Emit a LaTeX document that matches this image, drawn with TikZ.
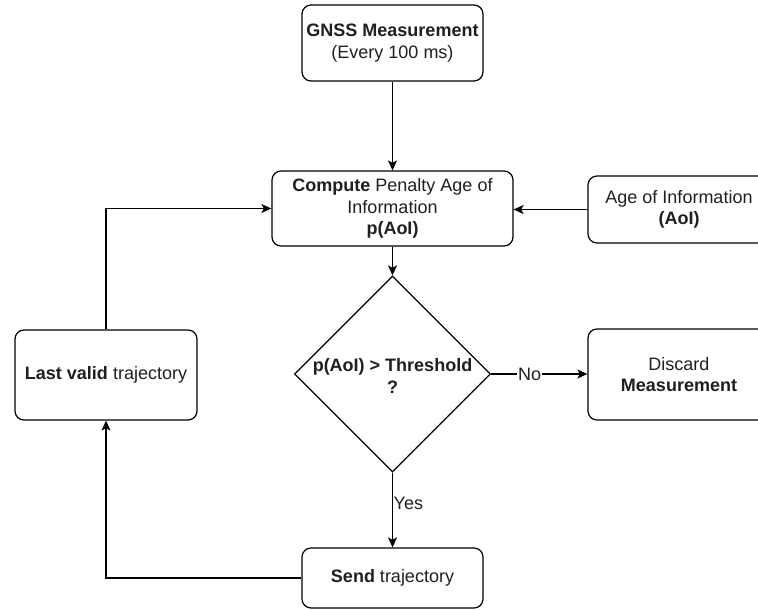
\documentclass[tikz,border=0pt]{standalone}
\usepackage{fontspec}
\setmainfont{Liberation Sans}
\usetikzlibrary{shapes.geometric,arrows.meta}
\begin{document}
\begin{tikzpicture}[x=1pt,y=-1pt,
  txt/.style={font=\fontsize{18}{21.5}\selectfont, text=black!88},
  box/.style={draw, rounded corners=9pt, line width=1.2pt, align=center, inner sep=0pt, txt},
  flow/.style={draw, line width=1.2pt, -{Stealth[length=10pt,width=9pt,inset=2.5pt]}},
  lbl/.style={txt, fill=white, inner sep=1pt}]
\useasboundingbox (0,0) rectangle (758,610);
\clip (0,0) rectangle (758,610);

% process boxes
\node[box, minimum width=181pt, minimum height=76pt] (gnss) at (392.5,43)
  {\textbf{GNSS Measurement}\\(Every 100 ms)};
\node[box, minimum width=241pt, minimum height=75pt] (compute) at (392.5,208.5)
  {\textbf{Compute} Penalty Age of\\Information\\\textbf{p(AoI)}};
\node[box, minimum width=182pt, minimum height=67pt] (aoi) at (679,209.5)
  {Age of Information\\\textbf{(AoI)}};
\node[box, minimum width=182pt, minimum height=91pt] (discard) at (679,374.5)
  {Discard\\\textbf{Measurement}};
\node[box, minimum width=182pt, minimum height=90pt] (last) at (106,375)
  {\textbf{Last valid} trajectory};
\node[box, minimum width=181pt, minimum height=60pt] (send) at (392.5,578)
  {\textbf{Send} trajectory};

% decision
\node[diamond, draw, line width=1.2pt, minimum width=196pt, minimum height=196pt, inner sep=0pt] (dec) at (392.5,374) {};
\node[txt, align=center] (dectext) at (392.5,376) {\textbf{p(AoI) > Threshold}\\\textbf{?}};

% connectors
\draw[flow] (gnss) -- (compute);
\draw[flow] (aoi.west) -- (aoi.west -| compute.east);
\draw[flow] (compute) -- (dec);
\draw[flow] (dec.east) -- node[lbl, pos=0.4] (no) {No} (dec.east -| discard.west);
\draw[flow] (dec.south) -- (send.north);
\node[txt, anchor=west, inner sep=0pt] (yes) at (393.5,503) {Yes};
\draw[flow] (send.west) -| (last.south);
\draw[flow] (last.north) |- (compute.west);
\end{tikzpicture}
\end{document}
